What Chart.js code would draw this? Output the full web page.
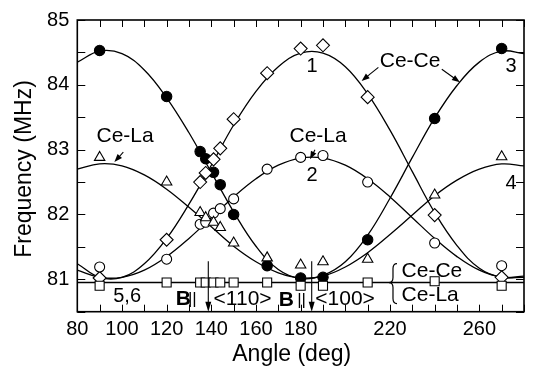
<!DOCTYPE html>
<html>
<head>
<meta charset="utf-8">
<script src="https://cdn.jsdelivr.net/npm/chart.js@4.4.1/dist/chart.umd.min.js"></script>
<style>
  html, body { margin: 0; padding: 0; background: #fff; }
  canvas { display: block; }
</style>
</head>
<body>
<canvas id="c" width="534" height="370"></canvas>
<script>
// Measured rotation angles (deg)
const angles = [90, 120, 135, 137.5, 141, 144, 150, 165, 180, 190, 210, 240, 270];

// Measured frequencies (MHz) for each resolved line
const line1Diamonds = [81.02, 81.61, 82.50, 82.64, 82.85, 83.02, 83.47, 84.18, 84.56, 84.61, 83.81, 81.99, 81.03];
const line2Circles  = [81.19, 81.31, 81.85, 81.88, 82.02, 82.09, 82.24, 82.70, 82.88, 82.91, 82.50, 81.56, 81.21];
const line3Filled   = [84.53, 83.82, 82.97, 82.86, 82.65, 82.46, 82.00, 81.21, 81.02, 81.03, 81.61, 83.48, 84.56];
const line4Triangles= [82.88, 82.50, 82.03, 81.95, 81.88, 81.80, 81.56, 81.33, 81.22, 81.27, 81.31, 82.30, 82.89];
const line56Squares = [80.90, 80.95, 80.95, 80.95, 80.95, 80.95, 80.95, 80.95, 80.90, 80.90, 80.95, 80.97, 80.90];

// Calculated angular dependence curves, sampled every 10 deg
const curveAngles = [80, 90, 100, 110, 120, 130, 140, 150, 160, 170, 180, 190, 200, 210, 220, 230, 240, 250, 260, 270, 280];
const curve1 = [81.24, 81.03, 81.03, 81.24, 81.63, 82.16, 82.76, 83.38, 83.90, 84.28, 84.49, 84.49, 84.28, 83.86, 83.30, 82.66, 82.03, 81.52, 81.17, 81.03, 81.05];
const curve2 = [81.14, 81.03, 81.03, 81.14, 81.35, 81.63, 81.95, 82.27, 82.55, 82.76, 82.87, 82.87, 82.76, 82.55, 82.27, 81.95, 81.63, 81.35, 81.14, 81.03, 81.03];
const curve3 = [84.35, 84.52, 84.48, 84.23, 83.80, 83.26, 82.65, 82.04, 81.51, 81.15, 81.01, 81.06, 81.27, 81.68, 82.25, 82.88, 83.49, 83.99, 84.35, 84.52, 84.48];
const curve4 = [82.70, 82.78, 82.75, 82.61, 82.39, 82.11, 81.81, 81.51, 81.27, 81.10, 81.02, 81.05, 81.19, 81.41, 81.69, 81.99, 82.29, 82.53, 82.70, 82.78, 82.75];
const curve56Angles = [80, 280];
const curve56 = [80.95, 80.95];

// Axis labelling
const xTickLabels = [80, 100, 120, 140, 160, 180, 220, 260];
const yTickLabels = [81, 82, 83, 84, 85];

const FONT = "'Liberation Sans', Arial, Helvetica, sans-serif";

const pts = (xs, ys) => xs.map((x, i) => ({ x: x, y: ys[i] }));

function markerSet(values, style, radius, fill) {
  return {
    type: 'scatter',
    data: pts(angles, values),
    pointStyle: style,
    pointRadius: radius,
    pointHoverRadius: radius,
    pointBackgroundColor: fill,
    pointBorderColor: '#000',
    pointBorderWidth: 1.1,
    showLine: false,
    order: 0
  };
}

function curveSet(xs, ys, width) {
  return {
    type: 'line',
    data: pts(xs, ys),
    borderColor: '#000',
    borderWidth: width,
    pointRadius: 0,
    tension: 0.4,
    fill: false,
    order: 1
  };
}

// Frame, inward ticks, axis titles and annotations
const decor = {
  id: 'decor',
  afterDraw(chart) {
    const ctx = chart.ctx;
    const xs = chart.scales.x, ys = chart.scales.y;
    const a = chart.chartArea;
    const X = v => xs.getPixelForValue(v);
    const Y = v => ys.getPixelForValue(v);
    ctx.save();
    ctx.strokeStyle = '#000';
    ctx.fillStyle = '#000';

    // inward tick marks
    ctx.lineWidth = 1;
    ctx.beginPath();
    for (let v = 80; v <= 280; v += 10) {
      const p = Math.round(X(v)) + 0.5;
      ctx.moveTo(p, a.bottom); ctx.lineTo(p, a.bottom - 7);
      ctx.moveTo(p, a.top); ctx.lineTo(p, a.top + 7);
    }
    for (let v = 80.5; v <= 85; v += 0.5) {
      const p = Math.round(Y(v)) + 0.5;
      ctx.moveTo(a.left, p); ctx.lineTo(a.left + 8, p);
      ctx.moveTo(a.right, p); ctx.lineTo(a.right - 8, p);
    }
    ctx.stroke();

    // frame
    ctx.lineWidth = 1.6;
    ctx.strokeRect(a.left, a.top, a.right - a.left, a.bottom - a.top);

    // axis titles
    ctx.font = '23px ' + FONT;
    ctx.textAlign = 'center';
    ctx.textBaseline = 'middle';
    ctx.fillText('Angle (deg)', 291.7, 355);
    ctx.save();
    ctx.translate(25, 169);
    ctx.rotate(-Math.PI / 2);
    ctx.fillText('Frequency (MHz)', 0, 0);
    ctx.restore();

    // labels
    ctx.font = '21px ' + FONT;
    const label = (t, x, y, align) => {
      ctx.textAlign = align || 'center';
      ctx.fillText(t, X(x), Y(y));
    };
    label('Ce-La', 101.4, 83.20);
    label('Ce-La', 187.8, 83.21);
    label('Ce-Ce', 229, 84.36);
    ctx.font = '20px ' + FONT;
    label('1', 185.1, 84.29);
    label('2', 185.1, 82.60);
    label('3', 274.2, 84.29);
    label('4', 274.2, 82.48);
    label('5,6', 102.3, 80.74);

    // arrows with filled heads
    const arrow = (x1, y1, x2, y2, head) => {
      const p1 = [X(x1), Y(y1)], p2 = [X(x2), Y(y2)];
      const ang = Math.atan2(p2[1] - p1[1], p2[0] - p1[0]);
      const h = head || 8, w = 3;
      ctx.lineWidth = 1.1;
      ctx.beginPath();
      ctx.moveTo(p1[0], p1[1]);
      ctx.lineTo(p2[0] - Math.cos(ang) * h * 0.8, p2[1] - Math.sin(ang) * h * 0.8);
      ctx.stroke();
      ctx.beginPath();
      ctx.moveTo(p2[0], p2[1]);
      ctx.lineTo(p2[0] - Math.cos(ang) * h + Math.sin(ang) * w, p2[1] - Math.sin(ang) * h - Math.cos(ang) * w);
      ctx.lineTo(p2[0] - Math.cos(ang) * h - Math.sin(ang) * w, p2[1] - Math.sin(ang) * h + Math.cos(ang) * w);
      ctx.closePath();
      ctx.fill();
    };
    arrow(100.6, 82.96, 96.6, 82.81);
    arrow(186.4, 83.00, 184.2, 82.85);
    arrow(214.8, 84.27, 207.3, 84.06);
    arrow(243.2, 84.24, 251.3, 84.04);
    arrow(138.65, 81.28, 138.65, 80.5, 10);
    arrow(184.95, 81.28, 184.95, 80.5, 10);

    // field direction labels
    ctx.font = 'bold 21px ' + FONT;
    label('B', 127.5, 80.69);
    label('B', 173.6, 80.67);
    ctx.font = '17px ' + FONT;
    label('||', 131.5, 80.69);
    label('||', 180.4, 80.67);
    ctx.font = '21px ' + FONT;
    label('<110>', 154.0, 80.69);
    label('<100>', 199.9, 80.69);

    // brace grouping lines 5 and 6
    const bx = X(220), bm = Y(80.95), bt = bm - 19, bb = bm + 21;
    ctx.lineWidth = 1.2;
    ctx.beginPath();
    ctx.moveTo(bx + 7, bt);
    ctx.quadraticCurveTo(bx + 3, bt, bx + 3, bt + 5);
    ctx.lineTo(bx + 3, bm - 5);
    ctx.quadraticCurveTo(bx + 3, bm, bx - 1, bm);
    ctx.quadraticCurveTo(bx + 3, bm, bx + 3, bm + 5);
    ctx.lineTo(bx + 3, bb - 5);
    ctx.quadraticCurveTo(bx + 3, bb, bx + 7, bb);
    ctx.stroke();
    ctx.font = '21px ' + FONT;
    label('Ce-Ce', 225.2, 81.13, 'left');
    label('Ce-La', 225.2, 80.75, 'left');

    ctx.restore();
  }
};

new Chart(document.getElementById('c'), {
  type: 'scatter',
  data: {
    datasets: [
      markerSet(line56Squares, 'rect', 6.4, '#fff'),
      markerSet(line4Triangles, 'triangle', 6, '#fff'),
      markerSet(line2Circles, 'circle', 5, '#fff'),
      markerSet(line1Diamonds, 'rectRot', 6.5, '#fff'),
      markerSet(line3Filled, 'circle', 5.2, '#000'),
      curveSet(curveAngles, curve1, 1.3),
      curveSet(curveAngles, curve2, 1.3),
      curveSet(curveAngles, curve3, 1.3),
      curveSet(curveAngles, curve4, 1.3),
      curveSet(curve56Angles, curve56, 1.6)
    ]
  },
  options: {
    responsive: false,
    animation: false,
    devicePixelRatio: 1,
    layout: { padding: { left: 0, right: 10, top: 15, bottom: 0 } },
    plugins: {
      legend: { display: false },
      tooltip: { enabled: false }
    },
    scales: {
      x: {
        type: 'linear',
        min: 80,
        max: 280,
        grid: { display: false, drawTicks: false },
        border: { display: false },
        ticks: {
          stepSize: 10,
          autoSkip: false,
          maxRotation: 0,
          padding: 6,
          color: '#000',
          font: { family: FONT, size: 20 },
          callback: v => (xTickLabels.includes(v) ? String(v) : '')
        },
        afterFit: s => { s.height = 58.3; }
      },
      y: {
        type: 'linear',
        min: 80.5,
        max: 85,
        grid: { display: false, drawTicks: false },
        border: { display: false },
        ticks: {
          stepSize: 0.5,
          autoSkip: false,
          padding: 8,
          color: '#000',
          font: { family: FONT, size: 20 },
          callback: v => (yTickLabels.includes(v) ? String(v) : '')
        },
        afterFit: s => { s.width = 77.3; }
      }
    }
  },
  plugins: [decor]
});
</script>
</body>
</html>
